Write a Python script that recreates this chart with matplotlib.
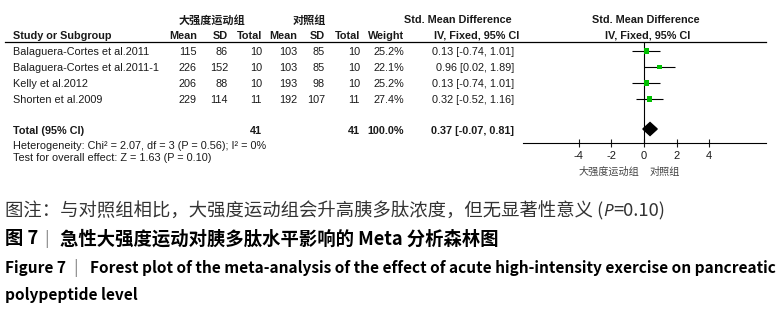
import matplotlib.pyplot as plt

plt.rcParams['font.family'] = ['Liberation Sans', 'Noto Sans CJK SC']

# data
studies = ["Balaguera-Cortes et al.2011", "Balaguera-Cortes et al.2011-1",
           "Kelly et al.2012", "Shorten et al.2009"]
exp_mean = [115, 226, 206, 229]
exp_sd = [86, 152, 88, 114]
exp_n = [10, 10, 10, 11]
ctl_mean = [103, 103, 193, 192]
ctl_sd = [85, 85, 98, 107]
ctl_n = [10, 10, 10, 11]
weight = [25.2, 22.1, 25.2, 27.4]
smd = [0.13, 0.96, 0.13, 0.32]
ci_lo = [-0.74, 0.02, -0.74, -0.52]
ci_hi = [1.01, 1.89, 1.01, 1.16]
total_smd, total_lo, total_hi = 0.37, -0.07, 0.81
total_exp_n, total_ctl_n, total_weight = 41, 41, 100.0
ticks = [-4, -2, 0, 2, 4]

W, H = 779, 311
fig = plt.figure(figsize=(W / 100, H / 100), dpi=100)
ax = fig.add_axes([0, 0, 1, 1])
ax.set_xlim(0, W)
ax.set_ylim(H, 0)
ax.axis('off')

txt = '#1a1a1a'
fs = 7.8
rows = [51, 67, 83, 99]
cjk = 'Noto Sans CJK SC'

# 표 머리글
ax.text(212, 20, "大强度运动组", fontsize=8, fontweight='bold', ha='center', va='center',
        family=cjk, color=txt)
ax.text(309, 20, "对照组", fontsize=8, fontweight='bold', ha='center', va='center',
        family=cjk, color=txt)
ax.text(458, 20, "Std. Mean Difference", fontsize=fs, fontweight='bold', ha='center', va='center', color=txt)
ax.text(646, 20, "Std. Mean Difference", fontsize=fs, fontweight='bold', ha='center', va='center', color=txt)

hy = 36
ax.text(13, hy, "Study or Subgroup", fontsize=fs, fontweight='bold', va='center', color=txt)
cols = [197, 228, 262, 297, 325, 360, 404]
names = ["Mean", "SD", "Total", "Mean", "SD", "Total", "Weight"]
for cx, nm in zip(cols, names):
    ax.text(cx, hy, nm, fontsize=fs, fontweight='bold', ha='right', va='center', color=txt)
ax.text(477, hy, "IV, Fixed, 95% CI", fontsize=fs, fontweight='bold', ha='center', va='center', color=txt)
ax.text(648, hy, "IV, Fixed, 95% CI", fontsize=fs, fontweight='bold', ha='center', va='center', color=txt)
ax.plot([5, 766], [42, 42], color='k', lw=0.9)

# 각 연구 행
for i, y in enumerate(rows):
    yt = y + 1
    ax.text(13, yt, studies[i], fontsize=fs, va='center', color=txt)
    vals = [exp_mean[i], exp_sd[i], exp_n[i], ctl_mean[i], ctl_sd[i], ctl_n[i]]
    for cx, v in zip(cols, vals):
        ax.text(cx, yt, str(v), fontsize=fs, ha='right', va='center', color=txt)
    ax.text(cols[-1], yt, "%.1f%%" % weight[i], fontsize=fs, ha='right', va='center', color=txt)
    ax.text(514, yt, "%.2f [%.2f, %.2f]" % (smd[i], ci_lo[i], ci_hi[i]),
            fontsize=fs, ha='right', va='center', color=txt)

ty = 131
ax.text(13, ty, "Total (95% CI)", fontsize=fs, fontweight='bold', va='center', color=txt)
ax.text(cols[2], ty, str(total_exp_n), fontsize=fs, fontweight='bold', ha='right', va='center', color=txt)
ax.text(cols[5], ty, str(total_ctl_n), fontsize=fs, fontweight='bold', ha='right', va='center', color=txt)
ax.text(cols[6], ty, "%.1f%%" % total_weight, fontsize=fs, fontweight='bold', ha='right', va='center', color=txt)
ax.text(514, ty, "%.2f [%.2f, %.2f]" % (total_smd, total_lo, total_hi),
        fontsize=fs, fontweight='bold', ha='right', va='center', color=txt)
ax.text(13, 146, "Heterogeneity: Chi² = 2.07, df = 3 (P = 0.56); I² = 0%", fontsize=fs, va='center', color=txt)
ax.text(13, 158, "Test for overall effect: Z = 1.63 (P = 0.10)", fontsize=fs, va='center', color=txt)

# forest axes
x0, xl, xr, ppu = 644, 523, 766, 16.3
y_top, y_axis = 42, 143
fx = fig.add_axes([xl / W, 1 - y_axis / H, (xr - xl) / W, (y_axis - y_top) / H])
fx.set_xlim((xl - x0) / ppu, (xr - x0) / ppu)
fx.set_ylim(y_axis, y_top)
fx.patch.set_alpha(0)
for s in ['top', 'left', 'right']:
    fx.spines[s].set_visible(False)
fx.spines['bottom'].set_linewidth(0.8)
fx.set_yticks([])
fx.set_xticks(ticks)
fx.set_xticklabels([str(t) for t in ticks])
fx.tick_params(axis='x', direction='inout', length=6, width=0.8, labelsize=8, pad=3, colors=txt)
fx.axvline(0, color='k', lw=0.8)
fx.hlines(rows, ci_lo, ci_hi, color='k', lw=0.8)
fx.scatter(smd, rows, marker='s', s=[w * 0.55 for w in weight], color='#00c000', zorder=3, linewidths=0)
dy = 129
fx.fill([total_lo, total_smd, total_hi, total_smd], [dy, dy - 6.5, dy, dy + 6.5], color='k', zorder=3)

ax.text(639, 172, "大强度运动组", fontsize=7.3, ha='right', va='center', family=cjk, color='#444444')
ax.text(650, 172, "对照组", fontsize=7.3, ha='left', va='center', family=cjk, color='#444444')

# 图注 — 조각들을 이어 붙임
r = fig.canvas.get_renderer()


def after(t):
    bb = t.get_window_extent(r)
    return ax.transData.inverted().transform((bb.x1, bb.y0))[0]


cap_fs = 13.2
t1 = ax.text(5, 216, "图注：与对照组相比，大强度运动组会升高胰多肽浓度，但无显著性意义 (", fontsize=cap_fs,
             family=cjk, va='baseline', color='#333333')
t2 = ax.text(after(t1), 216, "P", fontsize=cap_fs * 0.93, family=['Noto Sans', 'DejaVu Sans'],
             style='italic', va='baseline', color='#333333')
ax.text(after(t2), 216, "=0.10)", fontsize=cap_fs, family=cjk, va='baseline', color='#333333')

ax.text(5, 239, "图 7", fontsize=cap_fs, family=cjk, fontweight='bold', va='center', color='k')
ax.text(47, 239, "|", fontsize=12, family=cjk, ha='center', va='center', color='#888888')
ax.text(60, 239, "急性大强度运动对胰多肽水平影响的 Meta 分析森林图", fontsize=cap_fs, family=cjk,
        fontweight='bold', va='center', color='k')
ax.text(5, 268, "Figure 7", fontsize=11.1, family=cjk, fontweight='bold', va='center', color='k')
ax.text(76, 268, "|", fontsize=12, family=cjk, ha='center', va='center', color='#888888')
ax.text(90, 268, "Forest plot of the meta-analysis of the effect of acute high-intensity exercise on pancreatic",
        fontsize=11.1, family=cjk, fontweight='bold', va='center', color='k')
ax.text(5, 295, "polypeptide level", fontsize=11.1, family=cjk, fontweight='bold', va='center', color='k')

fig.savefig("out.png", dpi=100)
